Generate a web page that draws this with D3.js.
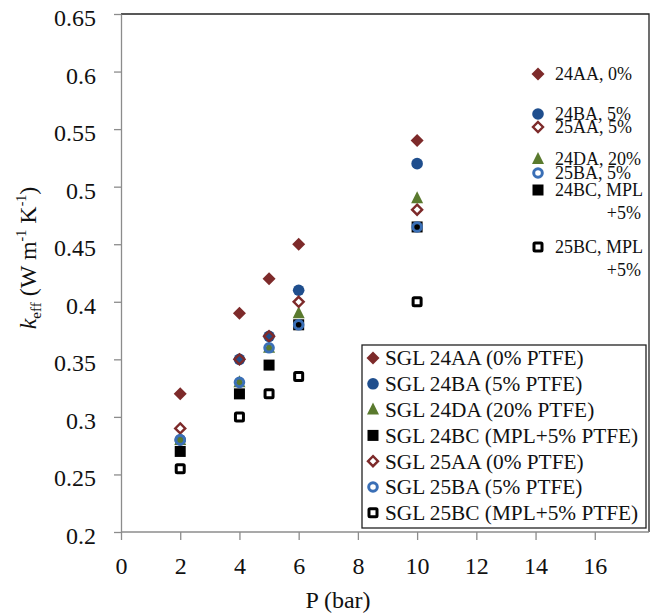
<!DOCTYPE html>
<html>
<head>
<meta charset="utf-8">
<script src="https://cdn.jsdelivr.net/npm/d3@7"></script>
</head>
<body style="margin:0;padding:0;background:#fff">
<svg id="chart" width="658" height="616" style="display:block"></svg>
<script>
// ---- data ----
const pressures = [2, 4, 5, 6, 10];
const seriesNames = [
  "SGL 24AA (0% PTFE)",
  "SGL 24BA (5% PTFE)",
  "SGL 24DA (20% PTFE)",
  "SGL 24BC (MPL+5% PTFE)",
  "SGL 25AA (0% PTFE)",
  "SGL 25BA (5% PTFE)",
  "SGL 25BC (MPL+5% PTFE)"
];
const k24AA = [0.32, 0.39, 0.42, 0.45, 0.54];
const k24BA = [0.28, 0.35, 0.37, 0.41, 0.52];
const k24DA = [0.28, 0.33, 0.36, 0.39, 0.49];
const k24BC = [0.27, 0.32, 0.345, 0.38, 0.465];
const k25AA = [0.29, 0.35, 0.37, 0.40, 0.48];
const k25BA = [0.28, 0.33, 0.36, 0.38, 0.465];
const k25BC = [0.255, 0.30, 0.32, 0.335, 0.40];
const seriesValues = [k24AA, k24BA, k24DA, k24BC, k25AA, k25BA, k25BC];
const xTicks = [0, 2, 4, 6, 8, 10, 12, 14, 16];
const yTicks = [0.2, 0.25, 0.3, 0.35, 0.4, 0.45, 0.5, 0.55, 0.6, 0.65];
// side annotation labels (series index, text lines)
const noteSeries = [0, 1, 4, 2, 5, 3, 6];
const noteLabels = ["24AA, 0%", "24BA, 5%", "25AA, 5%", "24DA, 20%", "25BA, 5%", "24BC,|MPL|+5%", "25BC,|MPL|+5%"];

// ---- styles ----
const FONT = '"Liberation Serif", "Times New Roman", serif';
const styles = [
  { shape: "diamond", fill: "#7d2a2a", stroke: "none" },
  { shape: "circle", fill: "#1f4e8d", stroke: "none" },
  { shape: "triangle", fill: "#5a7a2e", stroke: "none" },
  { shape: "square", fill: "#000", stroke: "none" },
  { shape: "odiamond", fill: "none", stroke: "#7d2a2a" },
  { shape: "ocircle", fill: "none", stroke: "#3a6fb6" },
  { shape: "osquare", fill: "none", stroke: "#000" }
];

const svg = d3.select("#chart");
const plotLeft = 121, plotRight = 649, plotTop = 14, plotBottom = 532;
const x = d3.scaleLinear().domain([0, 18]).range([121, 654]);
const y = d3.scaleLinear().domain([0.2, 0.65]).range([plotBottom, plotTop]);

function txt(g) {
  return g.append("text").style("font-family", FONT).attr("fill", "#111");
}

function drawMarker(g, st, cx, cy) {
  switch (st.shape) {
    case "diamond":
      g.append("path").attr("d", `M${cx},${cy-6.5}L${cx+6.5},${cy}L${cx},${cy+6.5}L${cx-6.5},${cy}Z`)
        .attr("fill", st.fill); break;
    case "odiamond":
      g.append("path").attr("d", `M${cx},${cy-5}L${cx+5},${cy}L${cx},${cy+5}L${cx-5},${cy}Z`)
        .attr("fill", "none").attr("stroke", st.stroke).attr("stroke-width", 2.4); break;
    case "circle":
      g.append("circle").attr("cx", cx).attr("cy", cy).attr("r", 5.8).attr("fill", st.fill); break;
    case "ocircle":
      g.append("circle").attr("cx", cx).attr("cy", cy).attr("r", 4.3).attr("fill", "none")
        .attr("stroke", st.stroke).attr("stroke-width", 3); break;
    case "triangle":
      g.append("path").attr("d", `M${cx},${cy-7}L${cx+6},${cy+5}L${cx-6},${cy+5}Z`).attr("fill", st.fill); break;
    case "square":
      g.append("rect").attr("x", cx-5.5).attr("y", cy-5.5).attr("width", 11).attr("height", 11).attr("fill", st.fill); break;
    case "osquare":
      g.append("rect").attr("x", cx-4).attr("y", cy-4).attr("width", 8).attr("height", 8).attr("rx", 1)
        .attr("fill", "none").attr("stroke", st.stroke).attr("stroke-width", 3); break;
  }
}

// frame (top/right)
svg.append("path")
  .attr("d", `M${plotLeft},${plotTop}H${plotRight}V${plotBottom}`)
  .attr("fill", "none").attr("stroke", "#222").attr("stroke-width", 1.3);

// axes
const yAxis = svg.append("g").attr("transform", `translate(${plotLeft},0)`)
  .call(d3.axisLeft(y).tickValues(yTicks).tickSize(7).tickSizeOuter(0).tickFormat(d => String(+d.toFixed(2))));
const xAxis = svg.append("g").attr("transform", `translate(0,${plotBottom})`)
  .call(d3.axisBottom(x).tickValues(xTicks).tickSize(8).tickSizeOuter(0).tickFormat(d => String(d)));
[yAxis, xAxis].forEach(a => {
  a.select(".domain").attr("stroke", "#8c8c8c").attr("stroke-width", 1.3);
  a.selectAll(".tick line").attr("stroke", "#8c8c8c").attr("stroke-width", 1.3);
  a.selectAll(".tick text").style("font-family", FONT).attr("font-size", 24).attr("fill", "#111");
});
xAxis.select(".domain").attr("d", `M${plotLeft},0H${plotRight}`);
yAxis.selectAll(".tick text").attr("x", -25).attr("dy", "0.48em");
xAxis.selectAll(".tick text").attr("y", 25).attr("dy", "0.71em");

// axis titles
txt(svg).attr("x", 338).attr("y", 608).attr("text-anchor", "middle")
  .attr("font-size", 24).text("P (bar)");
const yt = txt(svg).attr("transform", "translate(36,258) rotate(-90)")
  .attr("text-anchor", "middle").attr("font-size", 24);
yt.append("tspan").attr("font-style", "italic").text("k");
yt.append("tspan").attr("font-size", 15).attr("dy", 5).text("eff");
yt.append("tspan").attr("dy", -5).text(" (W m");
yt.append("tspan").attr("font-size", 14).attr("dy", -10).text("-1");
yt.append("tspan").attr("dy", 10).text(" K");
yt.append("tspan").attr("font-size", 14).attr("dy", -10).text("-1");
yt.append("tspan").attr("dy", 10).text(")");

// data points
const pts = svg.append("g");
seriesValues.forEach((vals, si) => {
  vals.forEach((v, i) => drawMarker(pts, styles[si], x(pressures[i]), y(v)));
});

// side annotations
const notePos = [74, 114, 127, 159, 173, 190, 247];
const notes = svg.append("g");
noteLabels.forEach((lab, i) => {
  const cy = notePos[i];
  drawMarker(notes, styles[noteSeries[i]], 538, cy);
  const parts = lab.split("|");
  txt(notes).attr("x", 555).attr("y", cy).attr("dy", "0.35em").attr("font-size", 18).text(parts[0]);
  if (parts.length > 1) {
    txt(notes).attr("x", 643).attr("y", cy).attr("dy", "0.35em").attr("text-anchor", "end")
      .attr("font-size", 18).text(parts[1]);
    txt(notes).attr("x", 641).attr("y", cy + 23).attr("dy", "0.35em").attr("text-anchor", "end")
      .attr("font-size", 18).text(parts[2]);
  }
});

// legend
const lg = svg.append("g");
lg.append("rect").attr("x", 362).attr("y", 345).attr("width", 284).attr("height", 183)
  .attr("fill", "#fff").attr("stroke", "#222").attr("stroke-width", 1.3);
seriesNames.forEach((name, i) => {
  const cy = 358 + i * 25.8;
  drawMarker(lg, styles[i], 373, cy);
  txt(lg).attr("x", 385).attr("y", cy).attr("dy", "0.35em").attr("font-size", 21.3).text(name);
});
</script>
</body>
</html>
